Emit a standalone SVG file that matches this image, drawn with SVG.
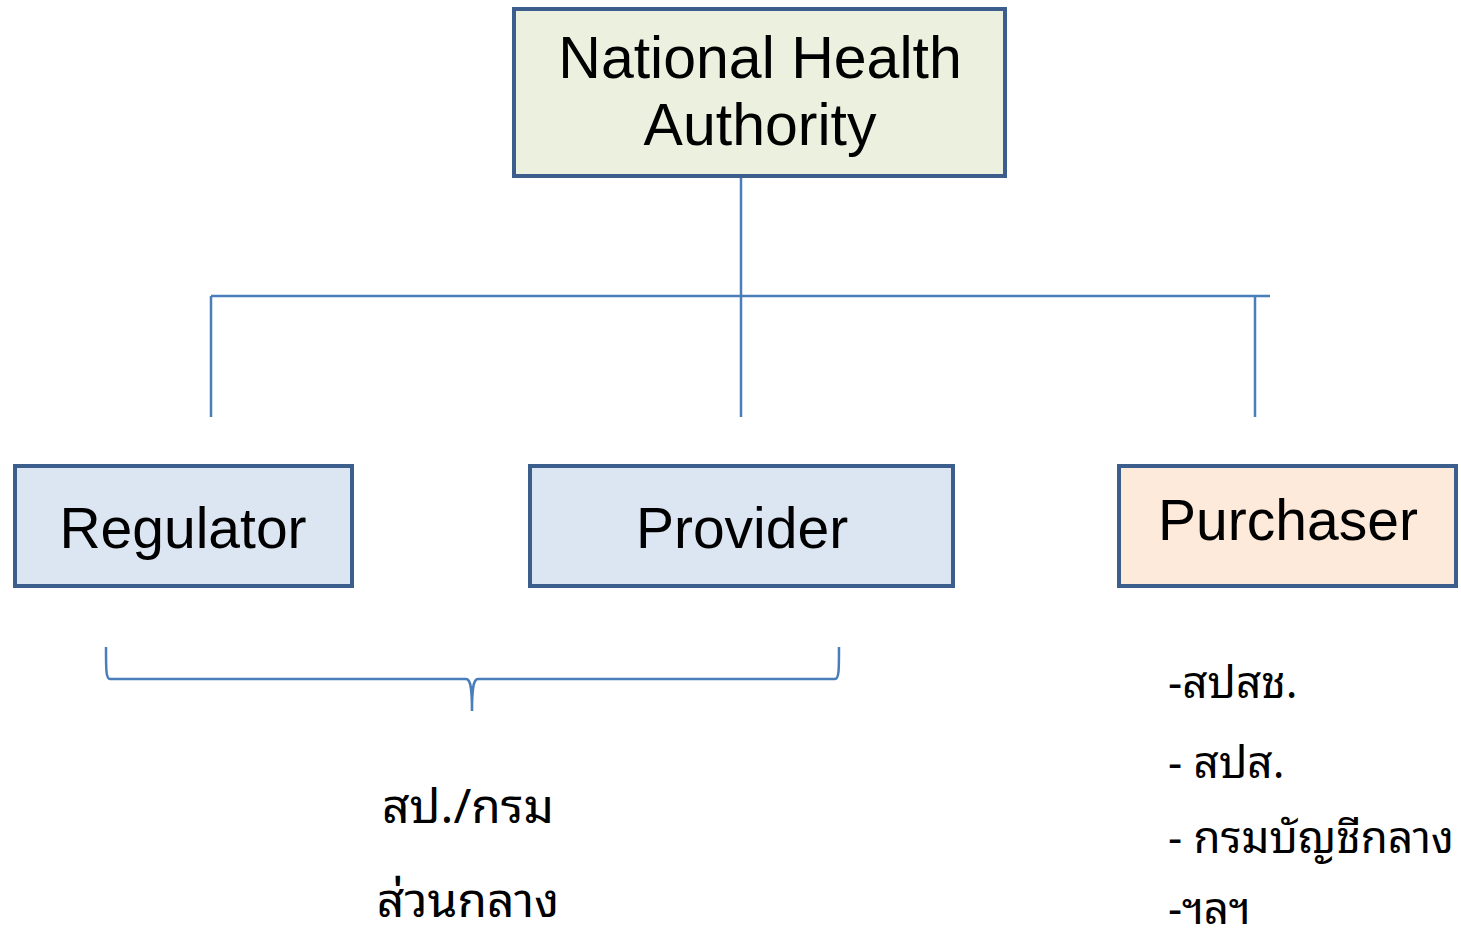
<svg xmlns="http://www.w3.org/2000/svg" width="1461" height="939" viewBox="0 0 1461 939">
<style>
.box{stroke:#3B5E8C;stroke-width:4}
.lbl{font-family:"Liberation Sans",Arial,sans-serif;fill:#000;text-anchor:middle}
.conn{stroke:#4A7EBB;stroke-width:2.5;fill:none}
.th{font-family:"Noto Sans Thai Looped","Loma","Garuda","Norasi","Tlwg Typo","Noto Sans Thai","DejaVu Sans",sans-serif;fill:#000}
.th44{font-size:44px}
.th48{font-size:48px}
</style>
<rect width="1461" height="939" fill="#fff"/>
<g id="connectors">
<path class="conn" d="M741 177V417M211 296H1270M211 296V417M1255 296V417"/>
<path id="brace" class="conn" stroke-width="2" d="M106 647C106 670 106 679 110 679H466C471 679 472 690 472 711C472 690 473 679 478 679H835C839 679 839 670 839 647"/>
</g>
<g id="nha">
<rect class="box" x="514" y="9" width="491" height="167" fill="#EBF1DE"/>
<text class="lbl" x="760" y="78" font-size="59">National Health</text>
<text class="lbl" x="760" y="145" font-size="59">Authority</text>
</g>
<g id="regulator">
<rect class="box" x="15" y="466" width="337" height="120" fill="#DCE6F2"/>
<text class="lbl" x="183" y="548" font-size="57">Regulator</text>
</g>
<g id="provider">
<rect class="box" x="530" y="466" width="423" height="120" fill="#DCE6F2"/>
<text class="lbl" x="742" y="548" font-size="57">Provider</text>
</g>
<g id="purchaser">
<rect class="box" x="1119" y="466" width="337" height="120" fill="#FDEADA"/>
<text class="lbl" x="1288" y="540" font-size="57">Purchaser</text>
</g>
<g id="central">
<text class="th th48" x="468" y="823" text-anchor="middle">สป./กรม</text>
<text class="th th48" x="468" y="917" text-anchor="middle">ส่วนกลาง</text>
</g>
<g id="purchaser-list">
<text class="th th44" x="1168" y="698">-สปสช.</text>
<text class="th th44" x="1168" y="778">- สปส.</text>
<text class="th th44" x="1168" y="853">- กรมบัญชีกลาง</text>
<text class="th th44" x="1168" y="924">-ฯลฯ</text>
</g>
</svg>
